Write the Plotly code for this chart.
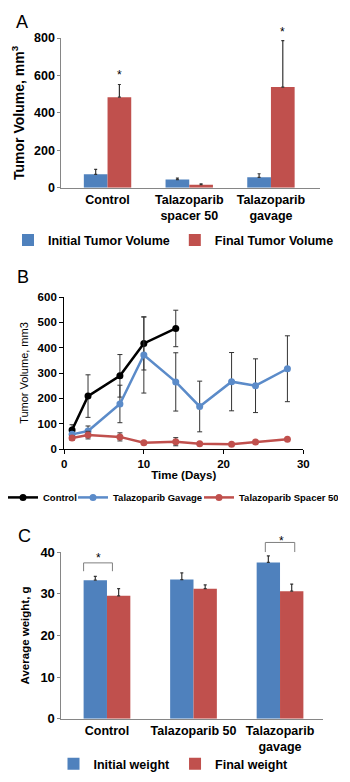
import plotly.graph_objects as go

# ---------------- data ----------------
# Panel A: tumor volume (mm3)
a_categories = ["Control", "Talazoparib<br>spacer 50", "Talazoparib<br>gavage"]
a_initial = [72, 44, 56]
a_initial_err = [26, 8, 19]
a_final = [484, 16, 538]
a_final_err = [68, 5, 248]
a_tickvals = [0, 200, 400, 600, 800]
a_star_x = [0.145, 2.145]
a_star_y = [605, 835]

# Panel B: tumor volume over time
b_days_control = [1, 3, 7, 10, 14]
b_control = [75, 209, 289, 417, 476]
b_control_err = [21, 84, 84, 105, 72]
b_days = [1, 3, 7, 10, 14, 17, 21, 24, 28]
b_gavage = [58, 71, 178, 371, 265, 168, 266, 250, 317]
b_gavage_err = [10, 20, 74, 150, 115, 100, 115, 106, 130]
b_spacer = [44, 55, 48, 25, 29, 21, 19, 28, 39]
b_spacer_err = [9, 15, 16, 5, 16, 3, 3, 4, 4]

# Panel C: average weight (g)
c_categories = ["Control", "Talazoparib 50", "Talazoparib<br>gavage"]
c_initial = [33.25, 33.4, 37.5]
c_initial_err = [0.9, 1.6, 1.6]
c_final = [29.5, 31.2, 30.6]
c_final_err = [1.7, 0.9, 1.7]
c_star_x = [-0.10, 2.02]
c_star_y = [38.6, 42.7]
# significance brackets: (x_left, x_right, y_top, y_leg_end)
c_brackets = [(-0.27, 0.063, 37.4, 35.4), (1.83, 2.17, 42.3, 40.0)]

# ---------------- style ----------------
W, H = 350, 782
BLUE = "#4F81BD"
RED = "#C0504D"
LBLUE = "#5B8BC9"
GRAY_AX = "#868686"
ERR = "#333333"
FONT = "Liberation Sans, Arial, sans-serif"

A_XR = [-0.564, 2.596]
A_YMAX = 800
C_XR = [-0.526, 2.495]
C_YMAX = 40


def fy(p):
    return 1 - p / H


def fx(p):
    return p / W


def dom(v, r):
    return (v - r[0]) / (r[1] - r[0])


fig = go.Figure()

BW_A = 0.29
BW_C = 0.27

# Panel A bars
fig.add_trace(go.Bar(
    x=a_categories, y=a_initial, width=BW_A, offset=-BW_A,
    marker=dict(color=BLUE, line=dict(width=0)), name="Initial Tumor Volume",
    error_y=dict(type="data", array=a_initial_err, arrayminus=[0] * 3, symmetric=False,
                 color=ERR, thickness=1.2, width=1.5),
    xaxis="x", yaxis="y", legend="legend"))
fig.add_trace(go.Bar(
    x=a_categories, y=a_final, width=BW_A, offset=0,
    marker=dict(color=RED, line=dict(width=0)), name="Final Tumor Volume",
    error_y=dict(type="data", array=a_final_err, arrayminus=[0] * 3, symmetric=False,
                 color=ERR, thickness=1.2, width=1.5),
    xaxis="x", yaxis="y", legend="legend"))

# Panel B lines
for xs, ys, es, col, nm, lw in [
    (b_days_control, b_control, b_control_err, "#000000", "Control", 25),
    (b_days, b_gavage, b_gavage_err, LBLUE, "Talazoparib Gavage", 81),
    (b_days, b_spacer, b_spacer_err, RED, "Talazoparib Spacer 50", 94),
]:
    fig.add_trace(go.Scatter(
        x=xs, y=ys, mode="lines+markers", name=nm,
        line=dict(color=col, width=2.5), marker=dict(color=col, size=7),
        error_y=dict(type="data", array=es, color=ERR, thickness=1, width=2.5),
        xaxis="x2", yaxis="y2", legend="legend2", legendwidth=lw))

# Panel C bars
fig.add_trace(go.Bar(
    x=c_categories, y=c_initial, width=BW_C, offset=-BW_C,
    marker=dict(color=BLUE, line=dict(width=0)), name="Initial weight",
    error_y=dict(type="data", array=c_initial_err, arrayminus=[0] * 3, symmetric=False,
                 color=ERR, thickness=1.2, width=1.5),
    xaxis="x3", yaxis="y3", legend="legend3"))
fig.add_trace(go.Bar(
    x=c_categories, y=c_final, width=BW_C, offset=0,
    marker=dict(color=RED, line=dict(width=0)), name="Final weight",
    error_y=dict(type="data", array=c_final_err, arrayminus=[0] * 3, symmetric=False,
                 color=ERR, thickness=1.2, width=1.5),
    xaxis="x3", yaxis="y3", legend="legend3"))

bold = dict(family=FONT, color="#000000", weight="bold")

annotations = []
for letter, x, y in [("A", 19, 15), ("B", 21, 275), ("C", 22, 539)]:
    annotations.append(dict(text=letter, x=fx(x), y=fy(y), xref="paper", yref="paper",
                            showarrow=False, xanchor="center", yanchor="middle",
                            font=dict(family=FONT, size=18, color="#000000")))
for sx, sy in zip(a_star_x, a_star_y):
    annotations.append(dict(text="*", x=dom(sx, A_XR), y=sy / A_YMAX, xref="x domain", yref="y domain",
                            showarrow=False, xanchor="center", yanchor="middle",
                            font=dict(family=FONT, size=12, color="#000000")))
for sx, sy in zip(c_star_x, c_star_y):
    annotations.append(dict(text="*", x=dom(sx, C_XR), y=sy / C_YMAX, xref="x3 domain", yref="y3 domain",
                            showarrow=False, xanchor="center", yanchor="middle",
                            font=dict(family=FONT, size=12, color="#000000")))

shapes = []
for x0, x1, yt, yb in c_brackets:
    for (sx0, sy0, sx1, sy1) in [(x0, yb, x0, yt), (x0, yt, x1, yt), (x1, yt, x1, yb)]:
        shapes.append(dict(type="line", xref="x3 domain", yref="y3 domain",
                           x0=dom(sx0, C_XR), y0=sy0 / C_YMAX, x1=dom(sx1, C_XR), y1=sy1 / C_YMAX,
                           line=dict(color="#7F7F7F", width=1)))

fig.update_layout(
    width=W, height=H,
    margin=dict(l=0, r=0, t=0, b=0),
    paper_bgcolor="white", plot_bgcolor="white",
    barmode="overlay",
    font=dict(family=FONT, color="#000000"),
    annotations=annotations, shapes=shapes,
    xaxis=dict(domain=[fx(60), fx(325)], anchor="y", type="category", range=A_XR,
               showline=True, linecolor=GRAY_AX, linewidth=1, ticks="", showgrid=False,
               tickfont=dict(size=12.5, **bold), tickangle=0),
    yaxis=dict(domain=[fy(184.3), fy(31.7)], anchor="x", range=[0, A_YMAX], tickvals=a_tickvals,
               showline=True, linecolor=GRAY_AX, linewidth=1, ticks="outside", ticklen=3,
               tickcolor=GRAY_AX, showgrid=False, zeroline=False,
               tickfont=dict(size=12.5, **bold),
               title=dict(text="Tumor Volume, mm<sup>3</sup>", font=dict(size=14, **bold), standoff=6)),
    xaxis2=dict(domain=[fx(62.7), fx(308.3)], anchor="y2", range=[0, 30], dtick=10,
                showline=True, linecolor="#000000", linewidth=1, ticks="outside", ticklen=4,
                tickcolor="#000000", showgrid=False, zeroline=False,
                tickfont=dict(size=11.5, **bold),
                title=dict(text="Time (Days)", font=dict(size=11.5, **bold), standoff=2)),
    yaxis2=dict(domain=[fy(450.7), fy(295.7)], anchor="x2", range=[0, 600], dtick=100,
                showline=True, linecolor="#000000", linewidth=1, ticks="outside", ticklen=4,
                tickcolor="#000000", showgrid=False, zeroline=False,
                tickfont=dict(size=11.5, **bold),
                title=dict(text="Tumor Volume, mm3", font=dict(family=FONT, size=11, color="#000000"),
                           standoff=6)),
    xaxis3=dict(domain=[fx(60), fx(328.3)], anchor="y3", type="category", range=C_XR,
                showline=True, linecolor=GRAY_AX, linewidth=1, ticks="", showgrid=False,
                tickfont=dict(size=12.5, **bold), tickangle=0),
    yaxis3=dict(domain=[fy(725.7), fy(555.7)], anchor="x3", range=[0, C_YMAX], dtick=10,
                showline=True, linecolor=GRAY_AX, linewidth=1, ticks="outside", ticklen=3,
                tickcolor=GRAY_AX, showgrid=False, zeroline=False,
                tickfont=dict(size=13, **bold),
                title=dict(text="Average weight, g", font=dict(size=11.5, **bold), standoff=8)),
    legend=dict(orientation="h", x=0.5, xanchor="center", y=fy(238), yanchor="middle",
                font=dict(size=12.5, **bold), bgcolor="rgba(0,0,0,0)"),
    legend2=dict(orientation="h", x=0, xanchor="left", y=fy(500), yanchor="middle",
                 font=dict(size=9.5, **bold), bgcolor="rgba(0,0,0,0)"),
    legend3=dict(orientation="h", x=0.5, xanchor="center", y=fy(772), yanchor="middle",
                 font=dict(size=12.5, **bold), bgcolor="rgba(0,0,0,0)"),
    showlegend=True,
)

fig.write_html("out.html", config={"displayModeBar": False},
               post_script="document.body.style.margin='0';document.body.style.overflow='hidden';")
